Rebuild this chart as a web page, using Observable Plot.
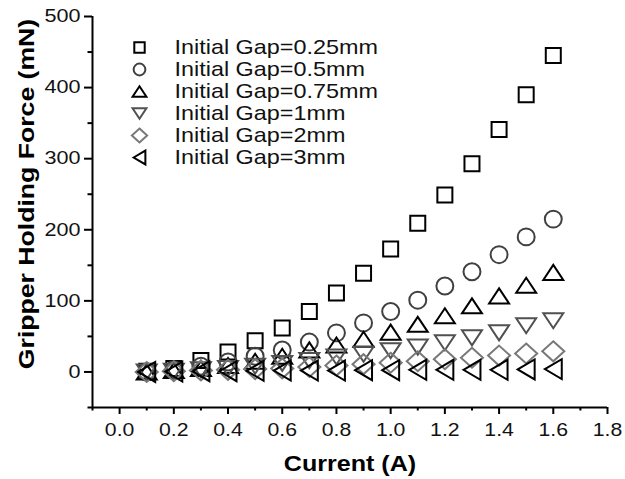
<!DOCTYPE html>
<html><head><meta charset="utf-8">
<script src="https://cdn.jsdelivr.net/npm/d3@7"></script>
<script src="https://cdn.jsdelivr.net/npm/@observablehq/plot@0.6"></script>
<style>
body{margin:0;background:#fff;}
#wrap{position:relative;width:625px;height:479px;overflow:hidden;}
#wrap svg{position:absolute;left:0;top:0;}
</style></head><body><div id="wrap"></div>
<script>
// ---- data ----
const current = [0.1,0.2,0.3,0.4,0.5,0.6,0.7,0.8,0.9,1.0,1.1,1.2,1.3,1.4,1.5,1.6];
const gap025 = [1,5,16,28,44,62,85,111,139,173,209,249,293,341,390,445];
const gap05  = [0,3,8,14,22,31,42,55,69,85,101,121,141,165,190,215];
const gap075 = [0,2,5,9,15,22,31,38,46,56,67,79,93,107,122,140];
const gap1   = [0,1,3,5,8,12,16,21,25,30,35,41,48,55,65,72];
const gap2   = [0,1,2,3,4,5,7,9,11,13,15,18,20,23,26,29];
const gap3   = [0,0.5,1,1,1.5,2,2,2,2.5,2.5,3,3,3,3,3.5,4];
const seriesLabels = ["Initial Gap=0.25mm","Initial Gap=0.5mm","Initial Gap=0.75mm","Initial Gap=1mm","Initial Gap=2mm","Initial Gap=3mm"];
const seriesValues = [gap025, gap05, gap075, gap1, gap2, gap3];
const seriesColors = ["#000000","#404040","#000000","#505050","#787878","#000000"];
const xTicks = [0,0.2,0.4,0.6,0.8,1.0,1.2,1.4,1.6,1.8];
const xMinorTicks = [-0.1,0.1,0.3,0.5,0.7,0.9,1.1,1.3,1.5,1.7];
const yTicks = [0,100,200,300,400,500];
const yMinorTicks = [-50,50,150,250,350,450];
const xTitle = "Current (A)";
const yTitle = "Gripper Holding Force (mN)";

// ---- custom symbols ----
function poly(pts){
  return {draw(ctx, size){
    const r = Math.sqrt(size/Math.PI);
    ctx.moveTo(pts[0][0]*r, pts[0][1]*r);
    for (let i=1;i<pts.length;i++) ctx.lineTo(pts[i][0]*r, pts[i][1]*r);
    ctx.closePath();
  }};
}
const symSquare = poly([[-1,-1],[1,-1],[1,1],[-1,1]]);
const symCircle = {draw(ctx,size){const r=Math.sqrt(size/Math.PI)*1.13; ctx.moveTo(r,0); ctx.arc(0,0,r,0,2*Math.PI); ctx.closePath();}};
const symUp = poly([[0,-1],[1.33,1],[-1.33,1]]);
const symDown = poly([[0,1],[1.33,-1],[-1.33,-1]]);
const symDiamond = poly([[0,-1.33],[1.47,0],[0,1.33],[-1.47,0]]);
const symLeft = poly([[-1.13,0],[1.13,-1.33],[1.13,1.33]]);
const seriesSymbols = [symSquare, symCircle, symUp, symDown, symDiamond, symLeft];

const series = seriesLabels.map((label, s) => ({
  label, color: seriesColors[s], symbol: seriesSymbols[s],
  points: current.map((c, i) => ({current: c, force: seriesValues[s][i]}))
}));

const font = "Arial, 'Liberation Sans', sans-serif";

const chart = Plot.plot({
  width: 625, height: 479,
  marginLeft: 92, marginRight: 18, marginTop: 16, marginBottom: 72,
  style: {fontFamily: font, background: "transparent", color: "#000", overflow: "visible"},
  x: {domain: [-0.1, 1.8]},
  y: {domain: [-50, 500]},
  marks: [
    Plot.axisX(xTicks, {tickSize: 7, tickPadding: 9, fontSize: 18, strokeWidth: 2, tickFormat: d3.format(".1f"), label: null, fill: "#111"}),
    Plot.axisX(xMinorTicks, {tickSize: 3.5, strokeWidth: 2, tickFormat: () => "", label: null}),
    Plot.axisY(yTicks, {tickSize: 8, tickPadding: 4, fontSize: 18, strokeWidth: 2, tickFormat: d3.format("d"), label: null, fill: "#111"}),
    Plot.axisY(yMinorTicks, {tickSize: 4.5, strokeWidth: 2, tickFormat: () => "", label: null}),
    Plot.ruleX([-0.1], {strokeWidth: 2}),
    Plot.ruleY([-50], {strokeWidth: 2}),
    ...series.map(s => Plot.dot(s.points, {x: "current", y: "force", symbol: s.symbol, r: 7.5, stroke: s.color, fill: "none", strokeWidth: 2})),
    Plot.text([xTitle], {text: d => d, frameAnchor: "bottom", textAnchor: "middle", dy: 63, lineAnchor: "bottom", fontSize: 22, fontWeight: "bold", fill: "#000"}),
    Plot.text([yTitle], {text: d => d, frameAnchor: "left", textAnchor: "middle", rotate: -90, dx: -59, dy: -18, lineAnchor: "bottom", fontSize: 22, fontWeight: "bold", fill: "#000"})
  ]
});

const legend = Plot.plot({
  width: 625, height: 479, margin: 0,
  style: {fontFamily: font, background: "transparent", overflow: "visible"},
  x: {axis: null, domain: [0, 1]},
  y: {type: "point", domain: seriesLabels, range: [35, 169], axis: null},
  marks: [
    ...series.map(s => Plot.dot([s], {y: "label", frameAnchor: "left", dx: 139, symbol: s.symbol, r: 5.2, stroke: s.color, fill: "none", strokeWidth: 2})),
    Plot.text(series, {y: "label", text: "label", frameAnchor: "left", dx: 174, textAnchor: "start", fontSize: 20, fill: "#111"})
  ]
});

const wrap = document.getElementById("wrap");
wrap.appendChild(chart);
wrap.appendChild(legend);

// glyph stretch along the text direction, about each text's anchor, to mimic the wide fonts of the reference
function stretchEl(t, k, vertical){
  const ns = "http://www.w3.org/2000/svg";
  const g = document.createElementNS(ns, "g");
  t.parentNode.insertBefore(g, t);
  g.appendChild(t);
  const b = g.getBBox();
  if (vertical) {
    const cy = b.y + b.height / 2;
    g.setAttribute("transform", `translate(0,${cy}) scale(1,${k}) translate(0,${-cy})`);
  } else {
    const anchor = getComputedStyle(t).textAnchor;
    const ax = anchor === "end" ? b.x + b.width : anchor === "middle" ? b.x + b.width / 2 : b.x;
    g.setAttribute("transform", `translate(${ax},0) scale(${k},1) translate(${-ax},0)`);
  }
}
Array.from(chart.querySelectorAll("g[aria-label] text")).forEach(t => {
  const lab = t.closest("g[aria-label]").getAttribute("aria-label");
  const txt = t.textContent;
  if (!txt) return;
  if (txt === xTitle) stretchEl(t, 1.14);
  else if (txt === yTitle) stretchEl(t, 1.21, true);
  else if (/^x-axis/.test(lab)) stretchEl(t, 1.18);
  else if (/^y-axis/.test(lab)) stretchEl(t, 1.2);
});
Array.from(legend.querySelectorAll("text")).forEach(t => stretchEl(t, 1.17));
</script></body></html>
